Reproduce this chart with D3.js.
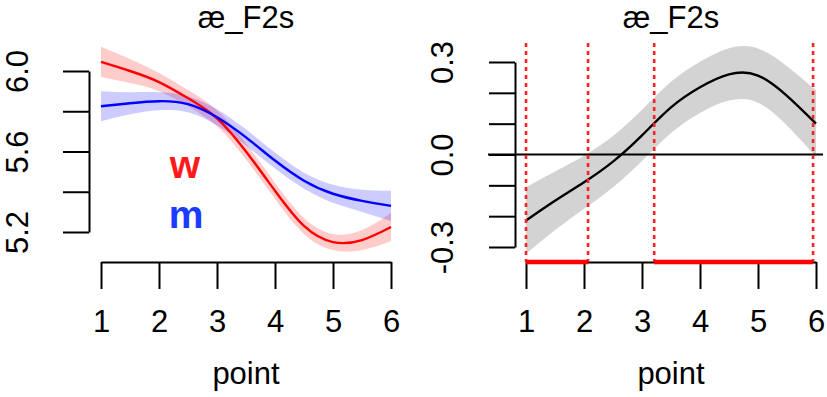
<!DOCTYPE html>
<html>
<head>
<meta charset="utf-8">
<script src="https://cdn.jsdelivr.net/npm/d3@7"></script>
<style>
  body { margin: 0; background: #fff; }
  svg { display: block; font-family: "Liberation Sans", Arial, Helvetica, sans-serif; }
</style>
</head>
<body>
<svg id="chart" width="827" height="397"></svg>
<script>
// ---- data ----
const points = [1, 1.5, 2, 2.5, 3, 3.5, 4, 4.5, 5, 5.5, 6];
const wMean = [6.045, 6.0, 5.945, 5.865, 5.765, 5.6, 5.405, 5.23, 5.15, 5.16, 5.225];
const wHalf = [0.075, 0.06, 0.045, 0.04, 0.04, 0.04, 0.04, 0.04, 0.04, 0.05, 0.07];
const mMean = [5.825, 5.84, 5.85, 5.835, 5.77, 5.67, 5.555, 5.455, 5.39, 5.355, 5.33];
const mHalf = [0.075, 0.055, 0.045, 0.04, 0.04, 0.04, 0.04, 0.04, 0.045, 0.055, 0.075];
const diffMean = [-0.214, -0.15, -0.09, -0.023, 0.062, 0.153, 0.218, 0.26, 0.256, 0.19, 0.1];
const diffHalf = [0.108, 0.095, 0.086, 0.083, 0.083, 0.083, 0.083, 0.085, 0.088, 0.096, 0.108];
const sigRegions = [[1, 2.07], [3.21, 5.95]];
const xTicks = [1, 2, 3, 4, 5, 6];
const leftYTicks = [5.2, 5.4, 5.6, 5.8, 6.0];
const leftYLabels = ["5.2", "", "5.6", "", "6.0"];
const rightYTicks = [-0.3, -0.2, -0.1, 0.0, 0.1, 0.2, 0.3];
const rightYLabels = ["-0.3", "", "", "0.0", "", "", "0.3"];
const titleText = "æ_F2s";
const xLabel = "point";

const svg = d3.select("#chart");
const FS = 31;

function styleAxis(g) {
  g.selectAll("path.domain").attr("stroke", "#000").attr("stroke-width", 2);
  g.selectAll(".tick line").attr("stroke", "#000").attr("stroke-width", 2);
  g.selectAll("text").attr("font-size", FS).attr("fill", "#000")
    .attr("font-family", '"Liberation Sans", Arial, sans-serif');
}

function drawPanel(opts) {
  const x = d3.scaleLinear().domain([1, 6]).range(opts.xRange);
  const y = d3.scaleLinear().domain(opts.yDomain).range(opts.yRange);
  const g = svg.append("g");

  const xa = g.append("g").attr("transform", `translate(0,${opts.axisY})`)
    .call(d3.axisBottom(x).tickValues(xTicks).tickSize(27).tickSizeOuter(0).tickFormat(d3.format("d")));
  styleAxis(xa);
  xa.selectAll("text").attr("y", 70).attr("dy", 0);

  const ya = g.append("g").attr("transform", `translate(${opts.axisX},0)`)
    .call(d3.axisLeft(y).tickValues(opts.yTicks).tickSize(26).tickSizeOuter(0)
      .tickFormat((d, i) => opts.yLabels[i]));
  styleAxis(ya);
  ya.selectAll("text")
    .attr("x", null).attr("dy", 0)
    .attr("text-anchor", "middle")
    .attr("transform", `translate(${opts.labelOffset},0) rotate(-90)`);

  const cx = (opts.xRange[0] + opts.xRange[1]) / 2;
  g.append("text").attr("x", cx).attr("y", 28).attr("text-anchor", "middle")
    .attr("font-size", FS).text(titleText);
  g.append("text").attr("x", cx).attr("y", 384).attr("text-anchor", "middle")
    .attr("font-size", FS).text(xLabel);
  return { g, x, y };
}

// ---- left panel ----
const L = drawPanel({
  xRange: [101, 391], yDomain: [5.2, 6.0], yRange: [232, 71],
  axisY: 262, axisX: 89, yTicks: leftYTicks, yLabels: leftYLabels,
  labelOffset: -61
});
const curve = d3.curveNatural;
function band(p, mean, half, fill) {
  const area = d3.area().curve(curve)
    .x((d, i) => p.x(points[i]))
    .y0((d, i) => p.y(mean[i] - half[i]))
    .y1((d, i) => p.y(mean[i] + half[i]));
  p.g.append("path").datum(points).attr("d", area).attr("fill", fill).attr("stroke", "none");
}
function line(p, mean, color) {
  const ln = d3.line().curve(curve)
    .x((d, i) => p.x(points[i]))
    .y((d, i) => p.y(mean[i]));
  p.g.append("path").datum(points).attr("d", ln).attr("fill", "none")
    .attr("stroke", color).attr("stroke-width", 2.4);
}
band(L, wMean, wHalf, "rgba(255,0,0,0.2)");
band(L, mMean, mHalf, "rgba(0,0,255,0.2)");
line(L, wMean, "#ff0000");
line(L, mMean, "#0000ff");
L.g.append("text").attr("x", 185).attr("y", 178).attr("text-anchor", "middle")
  .attr("font-size", 39).attr("font-weight", "bold").attr("fill", "#ff1a1a").text("w");
L.g.append("text").attr("x", 186).attr("y", 228).attr("text-anchor", "middle")
  .attr("font-size", 39).attr("font-weight", "bold").attr("fill", "#1a3cff").text("m");

// ---- right panel ----
const R = drawPanel({
  xRange: [526, 816], yDomain: [-0.3, 0.3], yRange: [247, 62],
  axisY: 262, axisX: 515, yTicks: rightYTicks, yLabels: rightYLabels,
  labelOffset: -62
});
band(R, diffMean, diffHalf, "#d3d3d3");
line(R, diffMean, "#000");
R.g.append("line").attr("x1", 488).attr("x2", 823)
  .attr("y1", R.y(0)).attr("y2", R.y(0)).attr("stroke", "#000").attr("stroke-width", 2);
const bounds = sigRegions.flat();
R.g.selectAll("line.vb").data(bounds).enter().append("line").attr("class", "vb")
  .attr("x1", d => R.x(d)).attr("x2", d => R.x(d))
  .attr("y1", 43).attr("y2", 262)
  .attr("stroke", "#ff2020").attr("stroke-width", 2.6).attr("stroke-dasharray", "4,4");
R.g.selectAll("line.sig").data(sigRegions).enter().append("line").attr("class", "sig")
  .attr("x1", d => R.x(d[0])).attr("x2", d => R.x(d[1]))
  .attr("y1", 262).attr("y2", 262)
  .attr("stroke", "#ff0000").attr("stroke-width", 4.5);
</script>
</body>
</html>
